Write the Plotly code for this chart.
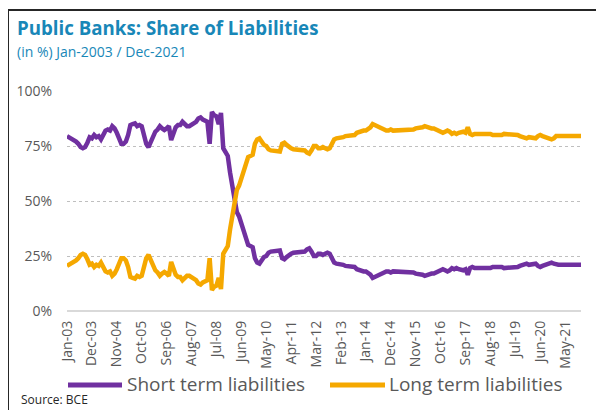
import pandas as pd
import plotly.graph_objects as go

# Monthly categories Jan-2003 .. Dec-2021
months = [d.strftime("%b-%y") for d in pd.date_range("2003-01-01", "2021-12-01", freq="MS")]

tick_labels = ["Jan-03", "Dec-03", "Nov-04", "Oct-05", "Sep-06", "Aug-07", "Jul-08",
               "Jun-09", "May-10", "Apr-11", "Mar-12", "Feb-13", "Jan-14", "Dec-14",
               "Nov-15", "Oct-16", "Sep-17", "Aug-18", "Jul-19", "Jun-20", "May-21"]

y_ticks = [0, 25, 50, 75, 100]
y_tick_labels = ["0%", "25%", "50%", "75%", "100%"]

series_names = ["Short term liabilities", "Long term liabilities"]

short_term = [
    79.5, 79, 78.5, 77.5, 77, 76, 74.5, 74, 74.5, 76.5, 79, 78.5,          # 2003
    80, 79, 79.5, 78, 80, 82, 82.5, 82, 84, 83, 81, 79,                    # 2004
    76, 76, 77, 80, 84.5, 85, 85.3, 84, 84.5, 84, 80.8, 76,                # 2005
    74.5, 77, 79, 81.5, 82.5, 84, 83, 82.3, 83, 84, 77.7, 81.5,            # 2006
    83.5, 84.5, 84.5, 86, 85, 84, 84, 84.5, 85.5, 86, 87.5, 88,            # 2007
    87, 86.5, 86, 76, 90.5, 89, 88.5, 85, 90, 74, 72, 70.5,                # 2008
    63, 56, 50.5, 45, 43, 40, 37, 33.5, 30, 29.5, 29, 24,                  # 2009
    22, 21.5, 23, 24.5, 25, 26.5, 27, 27, 27, 27.5, 27.5, 24,              # 2010
    23.5, 24.5, 25.5, 26, 26.5, 26.5, 27, 27, 27, 27, 28, 28.5,            # 2011
    27, 25, 25, 26, 26, 25.5, 26, 26.5, 26, 23.5, 22, 21.5,                # 2012
    21.5, 21, 21, 20.5, 20.5, 20.5, 20, 20, 19, 18.5, 18.5, 18,            # 2013
    18, 17.5, 16.5, 15, 15.5, 16.5, 17, 17.5, 17.5, 18, 18, 17.5,          # 2014
    18, 18, 18, 18, 17.5, 17.5, 17.5, 17.5, 17.5, 17.5, 17, 17,            # 2015
    16.5, 16.5, 16, 16.5, 17, 17, 17, 17.5, 18, 18.5, 19, 18.5,            # 2016
    18, 18.5, 19.5, 19, 19.5, 19, 18.5, 18.5, 19, 16.5, 19.5, 20,          # 2017
    19.5, 19.5, 19.5, 19.5, 19, 19, 19, 19.5, 20, 20, 20.5, 20.5,          # 2018
    20, 19.5, 19.5, 19.5, 19.5, 19.5, 20, 20, 20.5, 21, 21.5, 21.5,        # 2019
    21, 21, 21, 21.5, 20.5, 20, 20.5, 21, 21, 21.5, 22, 21.5,              # 2020
    21, 21, 21, 21, 21, 21, 21, 21, 21, 21, 21, 21,                        # 2021
]

long_term = [
    20.5, 21, 21.5, 22.5, 23, 24, 25.5, 26, 25.5, 23.5, 21, 21.5,          # 2003
    20, 21, 20.5, 22, 20, 18, 17.5, 18, 16, 17, 19, 21,                    # 2004
    24, 24, 23, 20, 15.5, 15, 14.7, 16, 15.5, 16, 19.2, 24,                # 2005
    25.5, 23, 21, 18.5, 17.5, 16, 17, 17.7, 17, 16, 22.3, 18.5,            # 2006
    16.5, 15.5, 15.5, 14, 15, 16, 16, 15.5, 14.5, 14, 12.5, 12,            # 2007
    13, 13.5, 14, 24, 9.5, 11, 11.5, 15, 10, 26, 28, 29.5,                 # 2008
    37, 44, 49.5, 55, 57, 60, 63, 66.5, 70, 70.5, 71, 76,                  # 2009
    78, 78.5, 77, 75.5, 75, 73.5, 73, 73, 73, 72.5, 72.5, 76,              # 2010
    76.5, 75.5, 74.5, 74, 73.5, 73.5, 73, 73, 73, 73, 72, 71.5,            # 2011
    73, 75, 75, 74, 74, 74.5, 74, 73.5, 74, 76.5, 78, 78.5,                # 2012
    78.5, 79, 79, 79.5, 79.5, 79.5, 80, 80, 81, 81.5, 81.5, 82,            # 2013
    82, 82.5, 83.5, 85, 84.5, 83.5, 83, 82.5, 82.5, 82, 82, 82.5,          # 2014
    82, 82, 82, 82, 82.5, 82.5, 82.5, 82.5, 82.5, 82.5, 83, 83,            # 2015
    83.5, 83.5, 84, 83.5, 83, 83, 83, 82.5, 82, 81.5, 81, 81.5,            # 2016
    82, 81.5, 80.5, 81, 80.5, 81, 81.5, 81.5, 81, 83.5, 80.5, 80,          # 2017
    80.5, 80.5, 80.5, 80.5, 81, 81, 81, 80.5, 80, 80, 79.5, 79.5,          # 2018
    80, 80.5, 80.5, 80.5, 80.5, 80.5, 80, 80, 79.5, 79, 78.5, 78.5,        # 2019
    79, 79, 79, 78.5, 79.5, 80, 79.5, 79, 79, 78.5, 78, 78.5,              # 2020
    79.5, 79.5, 79.5, 79.5, 79.5, 79.5, 79.5, 79.5, 79.5, 79.5, 79.5, 79.5,  # 2021
]

PURPLE = "#7030A0"
GOLD = "#F5A800"
BLUE = "#1887B8"
GRAY = "#595959"
FONT = "Open Sans"

# The page body adds an 8px offset; size the figure so it fits the window exactly.
OFF = 8
W, H = 604 - OFF, 410 - OFF
# plot area in page pixels: x 67..581, y 91..311
PL, PR, PT, PB = 67, 581, 91, 311
ML, MT = PL - OFF, PT - OFF
MR, MB = W - (PR - OFF), H - (PB - OFF)
PW, PH = W - ML - MR, H - MT - MB


def px_x(p):  # page px -> paper coordinate
    return (p - OFF - ML) / PW


def px_y(p):
    return (H - MB - (p - OFF)) / PH


fig = go.Figure()
fig.add_trace(go.Scatter(x=months, y=short_term, mode="lines", name=series_names[0],
                         line=dict(color=PURPLE, width=4.5), showlegend=False))
fig.add_trace(go.Scatter(x=months, y=long_term, mode="lines", name=series_names[1],
                         line=dict(color=GOLD, width=4.5), showlegend=False))

# legend drawn as line samples + text (page pixel positions)
legend_items = [(68, 122, 127, series_names[0], PURPLE), (330, 385, 389, series_names[1], GOLD)]
LEG_Y = 385
shapes = [
    dict(type="rect", xref="paper", yref="paper",
         x0=px_x(8), y0=px_y(460), x1=px_x(640), y1=px_y(10),
         line=dict(color="#262626", width=2), fillcolor="rgba(0,0,0,0)", layer="below"),
]
annotations = [
    dict(text="<b>Public Banks: Share of Liabilities</b>", xref="paper", yref="paper",
         x=px_x(16), y=px_y(41), xanchor="left", yanchor="bottom", showarrow=False,
         borderpad=0, font=dict(family=FONT, size=18.7, color=BLUE)),
    dict(text="(in %) Jan-2003 / Dec-2021", xref="paper", yref="paper",
         x=px_x(16), y=px_y(41), xanchor="left", yanchor="top", showarrow=False,
         borderpad=0, font=dict(family=FONT, size=14, color=BLUE)),
    dict(text="Source: BCE", xref="paper", yref="paper",
         x=px_x(19), y=px_y(410), xanchor="left", yanchor="bottom", showarrow=False,
         font=dict(family=FONT, size=12, color="#262626")),
]
for x0, x1, tx, name, col in legend_items:
    shapes.append(dict(type="line", xref="paper", yref="paper",
                       x0=px_x(x0), x1=px_x(x1), y0=px_y(LEG_Y), y1=px_y(LEG_Y),
                       line=dict(color=col, width=5)))
    annotations.append(dict(text=name, xref="paper", yref="paper",
                            x=px_x(tx - 2), y=px_y(LEG_Y - 1), xanchor="left", yanchor="middle",
                            showarrow=False, font=dict(family=FONT, size=19, color=GRAY)))

fig.update_layout(
    width=W, height=H,
    margin=dict(l=ML, r=MR, t=MT, b=MB, autoexpand=False),
    paper_bgcolor="white", plot_bgcolor="white",
    font=dict(family=FONT, color=GRAY, size=14),
    showlegend=False,
    annotations=annotations,
    shapes=shapes,
)

fig.update_xaxes(
    type="category", range=[0, len(months) - 1], automargin=False,
    tickmode="array", tickvals=tick_labels, ticktext=tick_labels,
    tickangle=-90, ticks="", showgrid=False, showline=False, zeroline=False,
    tickfont=dict(size=14, color=GRAY, family=FONT), ticklabelstandoff=6,
)
fig.update_yaxes(
    range=[0, 100], tickmode="array", tickvals=y_ticks, ticktext=y_tick_labels,
    automargin=False,
    showgrid=True, gridcolor="#BFBFBF", griddash="dot", gridwidth=1,
    zeroline=True, zerolinecolor="#D9D9D9", zerolinewidth=2,
    showline=False, ticks="", tickfont=dict(size=14, color=GRAY, family=FONT),
    ticklabelstandoff=14,
)

fig.write_html("out.html")
